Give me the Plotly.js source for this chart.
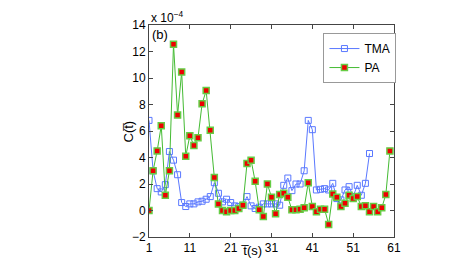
<!DOCTYPE html>
<html>
<head>
<meta charset="utf-8">
<script src="https://cdn.plot.ly/plotly-3.0.1.min.js"></script>
<style>html,body{margin:0;padding:0;background:#fff;}#chart{width:463px;height:261px;}</style>
</head>
<body>
<div id="chart"></div>
<script>
// time in seconds
const tTMA = [1,2,3,4,5,6,7,8,9,10,11,12,13,14,15,16,17,18,19,20,21,22,23,24,25,26,27,28,29,30,31,32,33,34,35,36,37,38,39,40,41,42,43,44,45,46,47,48,49,50,51,52,53,54,55];
const tPA = [1,2,3,4,5,6,7,8,9,10,11,12,13,14,15,16,17,18,19,20,21,22,23,24,25,26,27,28,29,30,31,32,33,34,35,36,37,38,39,40,41,42,43,44,45,46,47,48,49,50,51,52,53,54,55,56,57,58,59,60];
// values in units of 1e-4
const tmaValues = [6.8,3.0,1.65,1.4,1.95,4.45,3.8,2.7,0.6,0.3,0.5,0.5,0.65,0.7,0.85,1.05,2.1,1.3,0.65,0.85,0.6,0.35,0.3,0.4,1.05,0.35,0.15,0.25,0.5,0.5,0.5,0.5,0.4,1.9,2.45,1.5,2.0,2.0,3.0,6.8,6.1,1.55,1.6,1.65,1.55,2.05,0.9,0.8,1.55,1.8,1.05,1.9,1.15,2.05,4.3];
const paValues = [0.0,3.0,4.5,6.4,1.15,3.0,12.55,7.2,10.45,4.1,5.65,4.9,5.5,8.05,9.05,6.05,2.5,0.5,0.0,-0.1,0.0,0.0,0.15,0.4,3.55,3.8,2.2,0.05,-0.45,2.0,1.0,-0.25,1.2,1.3,1.0,0.05,0.05,0.1,0.2,2.1,0.3,-0.1,0.1,0.1,-1.05,1.25,1.0,0.3,0.55,1.15,0.9,1.05,0.3,0.35,-0.1,0.3,-0.1,0.2,1.2,4.5];
const xTicks = [1,11,21,31,41,51,61];
const yTicks = [-2,0,2,4,6,8,10,12,14];

const traces = [
  {x: tTMA, y: tmaValues, name: 'TMA', type: 'scatter', mode: 'lines+markers',
   line: {color: '#5a78ff', width: 1},
   marker: {symbol: 'square-open', size: 6, color: '#5a78ff', line: {width: 1, color: '#5a78ff'}}},
  {x: tPA, y: paValues, name: 'PA', type: 'scatter', mode: 'lines+markers',
   line: {color: '#44bb33', width: 1},
   marker: {symbol: 'square', size: 6, color: '#ee0000', line: {width: 1.5, color: '#66cc44'}}}
];

const axisFont = {family: 'Liberation Sans, Arial, sans-serif', size: 12, color: '#000'};
const layout = {
  width: 463, height: 261,
  margin: {l: 148.5, r: 69, t: 25, b: 24, pad: 0},
  paper_bgcolor: '#fff', plot_bgcolor: '#fff',
  showlegend: true,
  legend: {x: 0.712, y: 0.962, xanchor: 'left', yanchor: 'top',
    bordercolor: '#999', borderwidth: 1, bgcolor: '#fff',
    font: {family: 'Liberation Sans, Arial, sans-serif', size: 12, color: '#000'},
    tracegroupgap: 0, itemwidth: 30},
  xaxis: {range: [1, 61], tickvals: xTicks, ticktext: xTicks.map(String),
    ticks: 'inside', ticklen: 4, tickcolor: '#444', showline: true, linecolor: '#444', linewidth: 1,
    mirror: 'ticks', showgrid: false, zeroline: false, tickfont: axisFont},
  yaxis: {range: [-2, 14], tickvals: yTicks, ticktext: yTicks.map(v => v < 0 ? '\u2212' + Math.abs(v) : String(v)),
    ticks: 'inside', ticklen: 4, tickcolor: '#444', showline: true, linecolor: '#444', linewidth: 1,
    mirror: 'ticks', showgrid: false, zeroline: false, tickfont: axisFont},
  annotations: [
    {xref: 'paper', yref: 'paper', x: 0, y: 1, xanchor: 'left', yanchor: 'bottom', yshift: -2,
     text: 'x 10<sup>\u22124</sup>', showarrow: false, font: {family: 'Liberation Sans, Arial, sans-serif', size: 12, color: '#000'}},
    {xref: 'paper', yref: 'paper', x: 0.005, y: 1, xanchor: 'left', yanchor: 'top',
     text: '(b)', showarrow: false, font: {family: 'Liberation Sans, Arial, sans-serif', size: 13, color: '#000'}},
    {xref: 'paper', yref: 'paper', x: -0.045, y: 0.5, xanchor: 'right', yanchor: 'middle', textangle: -90,
     text: 'C(t\u0305)', showarrow: false, font: {family: 'Liberation Sans, Arial, sans-serif', size: 13, color: '#000'}},
    {xref: 'paper', yref: 'paper', x: 0.418, y: 0, xanchor: 'center', yanchor: 'top', yshift: -4,
     text: 't\u0305(s)', showarrow: false, font: {family: 'Liberation Sans, Arial, sans-serif', size: 13, color: '#000'}}
  ]
};
Plotly.newPlot('chart', traces, layout, {staticPlot: true, displayModeBar: false});
</script>
</body>
</html>
